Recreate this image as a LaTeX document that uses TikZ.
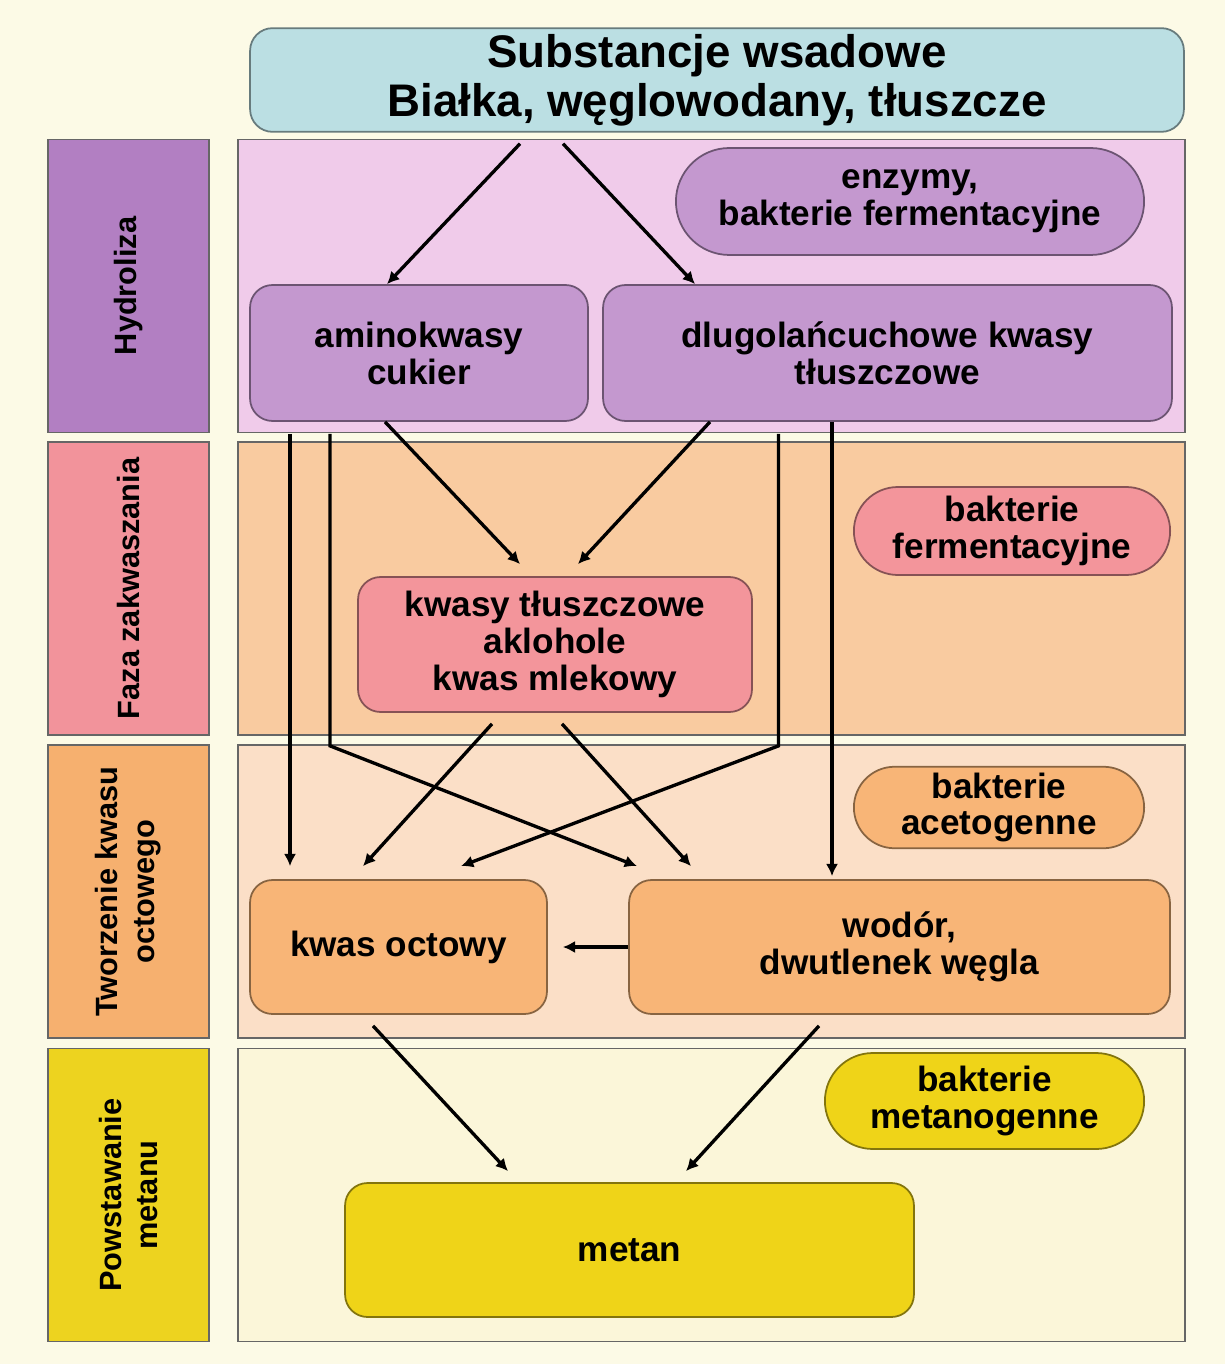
\documentclass[tikz,border=0pt]{standalone}
\usepackage{fontspec}
\setmainfont{Liberation Sans}
\usetikzlibrary{calc,shapes.misc,arrows.meta}

\definecolor{bgcream}{HTML}{FCFAE6}
\definecolor{titlefill}{HTML}{BBDFE3}
\definecolor{hydlab}{HTML}{B27FC2}
\definecolor{hydpan}{HTML}{F0CBEA}
\definecolor{hydbox}{HTML}{C498CF}
\definecolor{fazlab}{HTML}{F2939B}
\definecolor{fazpan}{HTML}{F9CBA0}
\definecolor{fazbox}{HTML}{F3959B}
\definecolor{twolab}{HTML}{F6B06F}
\definecolor{twopan}{HTML}{FBDFC7}
\definecolor{twobox}{HTML}{F8B577}
\definecolor{powlab}{HTML}{EDD31F}
\definecolor{powpan}{HTML}{FBF6D9}
\definecolor{powbox}{HTML}{EFD418}

\begin{document}
\begin{tikzpicture}[x=0.02cm, y=-0.02cm,
  font=\bfseries\fontsize{20}{21}\selectfont,
  panel/.style={draw=black!60, line width=1pt, rectangle, minimum width=18.94cm, minimum height=5.86cm},
  phase/.style={draw=black!60, line width=1pt, rectangle, rotate=90, align=center,
    minimum width=5.86cm, minimum height=3.22cm, font=\bfseries\fontsize{17.5}{21}\selectfont},
  item/.style={draw=#1!55!black, fill=#1, line width=1pt, rounded corners=0.45cm, align=center},
  pill/.style={draw=#1!55!black, fill=#1, line width=1pt, rounded rectangle, align=center},
  arr/.style={line width=1.9pt, -{Latex[length=7pt,width=7pt]}}
]

\useasboundingbox[fill=bgcream] (0,0) rectangle (1225,1364);

% faza nadawy
\node[item=titlefill, minimum width=18.68cm, minimum height=2.02cm,
  font=\bfseries\fontsize{26}{28}\selectfont] (sub) at (717,80)
  {Substancje wsadowe\\Białka, węglowodany, tłuszcze};

% hydroliza
\node[phase, fill=hydlab] (hyd) at (128.5,286) {Hydroliza};
\node[panel, fill=hydpan] (phyd) at (711.5,286) {};
\node[pill=hydbox, minimum width=9.6cm, minimum height=2.14cm] (enz) at (910,201.5)
  {enzymy,\\bakterie fermentacyjne};
\node[item=hydbox, minimum width=6.76cm, minimum height=2.72cm] (ami) at (419,353)
  {aminokwasy\\cukier};
\node[item=hydbox, minimum width=11.38cm, minimum height=2.72cm] (dlu) at (887.5,353)
  {dlugolańcuchowe kwasy\\tłuszczowe};

% zakwaszanie
\node[phase, fill=fazlab] (faz) at (128.5,588.5) {Faza zakwaszania};
\node[panel, fill=fazpan] (pfaz) at (711.5,588.5) {};
\node[pill=fazbox, minimum width=6.56cm, minimum height=1.76cm] (bfer) at (1012,531)
  {bakterie\\fermentacyjne};
\node[item=fazbox, minimum width=7.88cm, minimum height=2.7cm] (kwa) at (555,644.5)
  {kwasy tłuszczowe\\aklohole\\kwas mlekowy};

% kwas octowy
\node[phase, fill=twolab] (two) at (128.5,891.5) {Tworzenie kwasu\\octowego};
\node[panel, fill=twopan] (ptwo) at (711.5,891.5) {};
\node[pill=twobox, minimum width=6.04cm, minimum height=1.58cm] (bace) at (999,807.5)
  {bakterie\\acetogenne};
\node[item=twobox, minimum width=5.94cm, minimum height=2.68cm] (oct) at (398.5,947)
  {kwas octowy};
\node[item=twobox, minimum width=10.82cm, minimum height=2.68cm] (wod) at (899.5,947)
  {wodór,\\dwutlenek węgla};

% metan
\node[phase, fill=powlab] (pow) at (128.5,1195) {Powstawanie\\metanu};
\node[panel, fill=powpan] (ppow) at (711.5,1195) {};
\node[pill=powbox, minimum width=6.62cm, minimum height=1.92cm] (bmet) at (984.5,1101)
  {bakterie\\metanogenne};
\node[item=powbox, minimum width=11.38cm, minimum height=2.68cm] (met) at (629.5,1250)
  {metan};

% strzalki
\draw[arr] ($(sub.south)+(-197,11)$) -- ($(ami.north)+(-32,0)$);
\draw[arr] ($(sub.south)+(-154,11)$) -- ($(dlu.north)+(-192.5,0)$);
\draw[arr] ($(ami.south)+(-129,12)$) -- ($(oct.north)+(-108.5,-13)$);
\draw[arr] ($(ami.south)+(-89,12)$) -- ($(ami.south)+(-89,324)$) -- ($(wod.north)+(-262.5,-13)$);
\draw[arr] ($(ami.south)+(-34,0)$) -- ($(kwa.north)+(-35,-12)$);
\draw[arr] ($(dlu.south)+(-177.5,0)$) -- ($(kwa.north)+(23,-12)$);
\draw[arr] ($(dlu.south)+(-109,12)$) -- ($(dlu.south)+(-109,324)$) -- ($(oct.north)+(62.5,-13)$);
\draw[arr] ($(dlu.south)+(-55.5,0)$) -- ($(wod.north)+(-67.5,-3)$);
\draw[arr] ($(kwa.south)+(-63,11)$) -- ($(oct.north)+(-35.5,-13)$);
\draw[arr] ($(kwa.south)+(7,11)$) -- ($(wod.north)+(-208.5,-13)$);
\draw[arr, line width=2.3pt] (wod.west) -- ($(oct.east)+(15,0)$);
\draw[arr] ($(oct.south)+(-25.5,11)$) -- ($(met.north)+(-121.5,-11)$);
\draw[arr] ($(wod.south)+(-80.5,11)$) -- ($(met.north)+(56.5,-11)$);

\end{tikzpicture}
\end{document}
